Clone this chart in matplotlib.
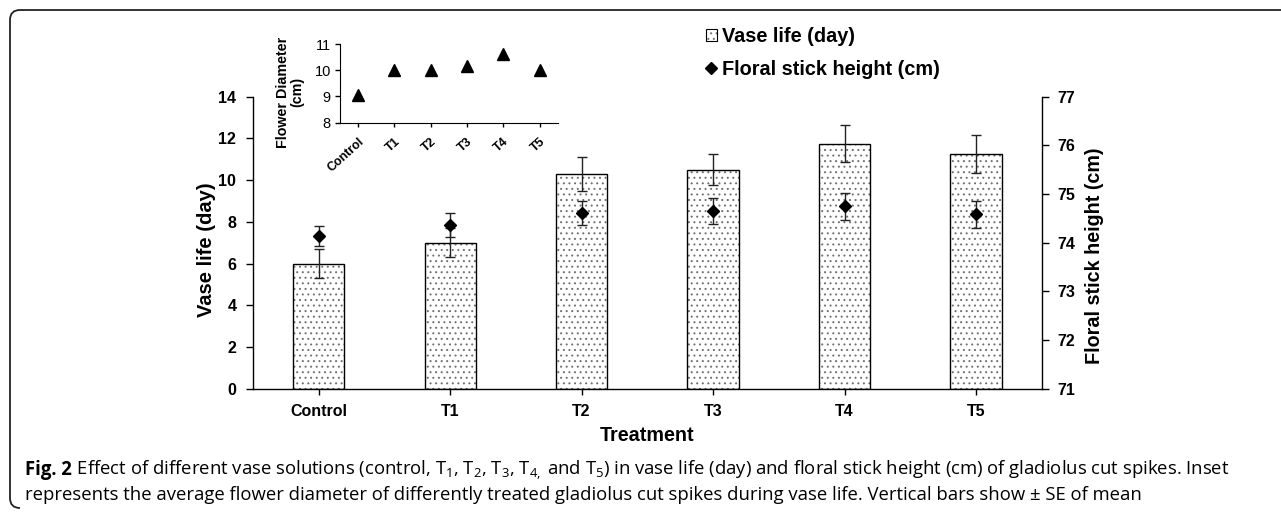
import matplotlib
matplotlib.use("Agg")
import matplotlib.pyplot as plt
import numpy as np
from matplotlib.lines import Line2D
from matplotlib.patches import Patch, PathPatch
from matplotlib.path import Path
from matplotlib.legend_handler import HandlerTuple

# ---------------- data ----------------
treatments = ["Control", "T1", "T2", "T3", "T4", "T5"]
vase_life = [6.0, 7.0, 10.3, 10.5, 11.75, 11.25]
vase_life_se = [0.7, 0.7, 0.8, 0.75, 0.9, 0.9]
stick_height = [74.14, 74.37, 74.61, 74.65, 74.75, 74.58]
stick_height_se = [0.2, 0.25, 0.25, 0.27, 0.28, 0.28]
flower_diameter = [9.05, 10.0, 10.0, 10.18, 10.63, 10.0]

left_ticks = [0, 2, 4, 6, 8, 10, 12, 14]
right_ticks = [71, 72, 73, 74, 75, 76, 77]
inset_ticks = [8, 9, 10, 11]

W, H = 1281, 513
plt.rcParams["hatch.linewidth"] = 0.7
plt.rcParams["mathtext.fontset"] = "custom"
plt.rcParams["mathtext.rm"] = "Open Sans"
plt.rcParams["mathtext.bf"] = "Open Sans:bold"
plt.rcParams["mathtext.it"] = "Open Sans:italic"

AR = "Liberation Sans"
HATCH_C = "#707070"
fig = plt.figure(figsize=(W / 100, H / 100), dpi=100)


def fx(px):
    return px / W


def fy(py):
    return 1 - py / H


# main axes
ax = fig.add_axes([fx(253), fy(388.7), fx(1041.7) - fx(253), fy(96.7) - fy(388.7)])
x = np.arange(len(treatments))
ax.bar(x, vase_life, width=0.39, color="white", edgecolor=HATCH_C, linewidth=0,
       hatch="...", zorder=2)
ax.bar(x, vase_life, width=0.39, fill=False, edgecolor="black", linewidth=1.0, zorder=2.5)
ax.errorbar(x, vase_life, yerr=vase_life_se, fmt="none", ecolor="#222222",
            elinewidth=1.0, capsize=3.5, capthick=1.0, zorder=3)
ax.set_xlim(-0.5, 5.5)
ax.set_ylim(0, 14)
ax.set_yticks(left_ticks)
ax.set_xticks(x)
ax.set_xticklabels(treatments, fontfamily=AR, fontweight="bold", fontsize=11.5)
ax.set_yticklabels([str(t) for t in left_ticks], fontfamily=AR, fontweight="bold", fontsize=11.5)
ax.tick_params(axis="y", direction="out", length=5, width=1, pad=7)
ax.tick_params(axis="x", direction="out", length=4, width=1, pad=7)
for s in ["top", "right"]:
    ax.spines[s].set_visible(False)
for s in ["left", "bottom"]:
    ax.spines[s].set_linewidth(1.0)
ax.set_xlabel("Treatment", fontfamily=AR, fontweight="bold", fontsize=14.2, labelpad=5)
ax.set_ylabel("Vase life (day)", fontfamily=AR, fontweight="bold", fontsize=14.5)
ax.yaxis.set_label_coords((206 - 253) / (1041.7 - 253), (388.7 - 250) / 292)
ax.yaxis.label.set_va("center")

ax2 = ax.twinx()
ax2.errorbar(x, stick_height, yerr=stick_height_se, fmt="D", color="black",
             markersize=6.5, ecolor="#222222", elinewidth=1.0, capsize=3.5, capthick=1.0,
             zorder=4)
ax2.set_ylim(71, 77)
ax2.set_yticks(right_ticks)
ax2.set_yticklabels([str(t) for t in right_ticks], fontfamily=AR, fontweight="bold", fontsize=11.5)
ax2.tick_params(axis="y", direction="out", length=5, width=1, pad=6)
for s in ["top", "left", "bottom"]:
    ax2.spines[s].set_visible(False)
ax2.spines["right"].set_linewidth(1.0)
ax2.set_ylabel("Floral stick height (cm)", fontfamily=AR, fontweight="bold", fontsize=14.2)
ax2.yaxis.set_label_coords((1095 - 253) / (1041.7 - 253), (388.7 - 256) / 292)
ax2.yaxis.label.set_va("center")

# inset
axi = fig.add_axes([fx(340), fy(122.7), fx(557.7) - fx(340), fy(44) - fy(122.7)])
axi.plot(x, flower_diameter, linestyle="none", marker="^", color="black", markersize=8.5)
axi.set_xlim(-0.5, 5.5)
axi.set_ylim(8, 11)
axi.set_yticks(inset_ticks)
axi.set_yticklabels([str(t) for t in inset_ticks], fontfamily=AR, fontsize=10.5)
axi.set_xticks(x)
axi.set_xticklabels(treatments, fontfamily=AR, fontweight="bold", fontsize=9,
                    rotation=42, ha="right", rotation_mode="anchor")
axi.tick_params(axis="y", direction="out", length=3.5, width=1, pad=3)
axi.tick_params(axis="x", direction="out", length=3, width=1, pad=6)
for s in ["top", "right"]:
    axi.spines[s].set_visible(False)
axi.patch.set_alpha(0)
fig.text(fx(290), fy(92), "Flower Diameter\n(cm)", rotation=90, ha="center", va="center",
         multialignment="center", fontfamily=AR, fontweight="bold", fontsize=10.3,
         linespacing=1.0)

# legend
hatch_patch = Patch(facecolor="white", edgecolor=HATCH_C, hatch="...", linewidth=0)
edge_patch = Patch(facecolor="none", edgecolor="black", linewidth=0.8)
handles = [
    (hatch_patch, edge_patch),
    Line2D([], [], linestyle="none", marker="D", color="black", markersize=6),
]
fig.legend(handles, ["Vase life (day)", "Floral stick height (cm)"],
           loc="upper left", bbox_to_anchor=(fx(706), fy(27)), frameon=False,
           prop={"family": AR, "weight": "bold", "size": 14.3},
           handlelength=0.55, handleheight=0.55, handletextpad=0.25,
           labelspacing=0.7, borderpad=0, borderaxespad=0,
           handler_map={tuple: HandlerTuple(ndivide=1, pad=0)})

# caption
bold_part = "Fig. 2"
line1 = (r" Effect of different vase solutions (control, T$_1$, T$_2$, "
         r"T$_3$, T$_{4,}$ and T$_5$) in vase life (day) and floral stick height (cm) "
         r"of gladiolus cut spikes. Inset")
line2 = ("represents the average flower diameter of differently treated gladiolus cut spikes "
         "during vase life. Vertical bars show \u00b1 SE of mean")
cap_fs = 11.6
tb = fig.text(fx(25), fy(475), bold_part, fontfamily="Open Sans", fontweight="bold",
              fontsize=cap_fs, ha="left", va="baseline")
fig.canvas.draw()
r = fig.canvas.get_renderer()
bw = tb.get_window_extent(r).width
t1 = fig.text(fx(25 + bw), fy(475), line1, fontfamily="Open Sans", fontsize=cap_fs,
              ha="left", va="baseline")
t2 = fig.text(fx(25), fy(500), line2, fontfamily="Open Sans", fontsize=cap_fs,
              ha="left", va="baseline")
fig.canvas.draw()
w1 = t1.get_window_extent(r).width + bw
scale = (1235 - 25) / w1
new_fs = cap_fs * scale
tb.set_fontsize(new_fs)
t2.set_fontsize(new_fs)
t1.set_fontsize(new_fs)
fig.canvas.draw()
bw = tb.get_window_extent(r).width
t1.set_x(fx(25 + bw))

# rounded frame
verts = [(W + 5, 10), (20, 10), (10, 10), (10, 20), (10, 498), (10, 508), (20, 508)]
codes = [Path.MOVETO, Path.LINETO, Path.CURVE3, Path.CURVE3, Path.LINETO, Path.CURVE3, Path.CURVE3]
verts_f = [(fx(a), fy(b)) for a, b in verts]
frame = PathPatch(Path(verts_f, codes), facecolor="none", edgecolor="#222222", linewidth=1.3,
                  transform=fig.transFigure)
fig.add_artist(frame)

fig.savefig("out.png", dpi=100)
